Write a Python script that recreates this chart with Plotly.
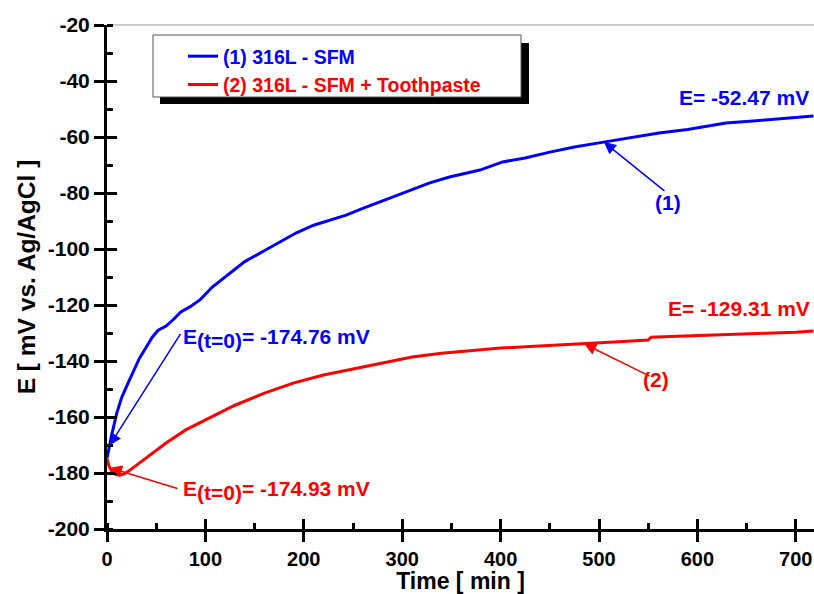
import numpy as np
import plotly.graph_objects as go

# ---------------- data ----------------
t_sfm = [0, 2, 5, 10, 15, 20, 27, 33, 40, 46, 52, 60, 68, 75, 85, 95, 107, 125, 140, 158,
         175, 192, 210, 230, 243, 260, 277, 297, 315, 328, 348, 379, 402, 425, 450, 475,
         500, 530, 561, 590, 629, 660, 690, 718]
e_sfm = [-174.76, -171, -166, -158.5, -153, -149, -143.5, -139, -135, -131.5, -129, -127.5,
         -125, -122.5, -120.5, -118, -113.6, -108.5, -104.5, -101, -97.5, -94.3, -91.5,
         -89.3, -87.9, -85.5, -83.2, -80.6, -78.3, -76.4, -74.3, -71.8, -68.9, -67.5,
         -65.4, -63.6, -62.1, -60.4, -58.6, -57.3, -55, -54.2, -53.4, -52.47]

t_tp = [0, 2, 5, 9, 13, 18, 24, 33, 45, 60, 80, 100, 130, 160, 190, 220, 250, 280, 310,
        340, 370, 400, 430, 460, 490, 520, 550, 553, 580, 610, 640, 670, 700, 718]
e_tp = [-174.93, -177.5, -179.5, -180.6, -180.8, -180.2, -178.8, -176.4, -173, -169.3,
        -164.6, -161, -155.8, -151.5, -147.8, -145, -142.8, -140.7, -138.6, -137.2,
        -136.2, -135.4, -134.8, -134.3, -133.8, -133.1, -132.5, -131.5, -131.2, -130.9,
        -130.5, -130.1, -129.7, -129.31]

x_ticks = [0, 100, 200, 300, 400, 500, 600, 700]
x_ticklabels = ["0", "100", "200", "300", "400", "500", "600", "700"]
y_ticks = [-200, -180, -160, -140, -120, -100, -80, -60, -40, -20]
y_ticklabels = ["-200", "-180", "-160", "-140", "-120", "-100", "-80", "-60", "-40", "-20"]

name_sfm = "(1) 316L - SFM"
name_tp = "(2) 316L - SFM + Toothpaste"

BLUE = "#0000FF"
RED = "#FF0000"
FONT = "Arial, Liberation Sans, sans-serif"

W, H = 814, 594
ML, MR, MT, MB = 107, 0, 25, 65
PW, PH = W - ML - MR, H - MT - MB


def px(xp):
    return (xp - ML) / PW


def py(yp):
    return 1 - (yp - MT) / PH


fig = go.Figure()
fig.add_trace(go.Scatter(x=t_sfm, y=e_sfm, mode="lines",
                         name=f"<span style='color:{BLUE}'>{name_sfm}</span>",
                         line=dict(color=BLUE, width=3)))
fig.add_trace(go.Scatter(x=t_tp, y=e_tp, mode="lines",
                         name=f"<span style='color:{RED}'>{name_tp}</span>",
                         line=dict(color=RED, width=3)))
# empty helper trace so the overlay axes (crossing ticks) get drawn
fig.add_trace(go.Scatter(x=[], y=[], xaxis="x2", yaxis="y2", showlegend=False,
                         hoverinfo="skip"))

axis_common = dict(showline=True, linecolor="black", linewidth=3,
                   ticks="outside", ticklen=10, tickwidth=3, tickcolor="black",
                   showgrid=False, zeroline=False)

xr = [0, 718.5]
yr = [-200, -20]

fig.update_layout(
    width=W, height=H,
    margin=dict(l=ML, r=MR, t=MT, b=MB),
    paper_bgcolor="white", plot_bgcolor="white",
    xaxis=dict(range=xr, tickvals=x_ticks, ticktext=x_ticklabels,
               tickfont=dict(family=FONT, size=20, color="black", weight=700),
               title=dict(text="Time [ min ]", standoff=7,
                          font=dict(family=FONT, size=23, color="black", weight=700)),
               minor=dict(dtick=50, ticks="inside", ticklen=6, tickwidth=2.5,
                          tickcolor="black"),
               **axis_common),
    yaxis=dict(range=yr, tickvals=y_ticks, ticktext=y_ticklabels,
               tickfont=dict(family=FONT, size=21, color="black", weight=700),
               title=dict(text="E [ mV vs. Ag/AgCl ]", standoff=6,
                          font=dict(family=FONT, size=24.5, color="black", weight=700)),
               minor=dict(dtick=10, ticks="inside", ticklen=6, tickwidth=2.5,
                          tickcolor="black"),
               **axis_common),
    xaxis2=dict(range=xr, overlaying="x", anchor="y", side="bottom",
                tickvals=x_ticks, ticks="inside", ticklen=10, tickwidth=3,
                tickcolor="black", showticklabels=False, showline=False,
                showgrid=False, zeroline=False),
    yaxis2=dict(range=yr, overlaying="y", anchor="x", side="left",
                tickvals=y_ticks, ticks="inside", ticklen=10, tickwidth=3,
                tickcolor="black", showticklabels=False, showline=False,
                showgrid=False, zeroline=False),
    showlegend=True,
    legend=dict(x=px(183), y=py(37), xanchor="left", yanchor="top",
                bgcolor="rgba(0,0,0,0)", borderwidth=0,
                font=dict(family=FONT, size=19.5, weight=700),
                itemwidth=30, tracegroupgap=0),
)

# legend frame with drop shadow and thin top border line
fig.add_shape(type="rect", xref="paper", yref="paper",
              x0=px(160), x1=px(529), y0=py(104), y1=py(43),
              fillcolor="black", line=dict(width=0), layer="above")
fig.add_shape(type="rect", xref="paper", yref="paper",
              x0=px(153), x1=px(521), y0=py(97), y1=py(35),
              fillcolor="white", line=dict(color="#555555", width=1), layer="above")
fig.add_shape(type="line", xref="paper", yref="paper", x0=0, x1=1, y0=1, y1=1,
              line=dict(color="#999999", width=1), layer="below")

ann_font = lambda c: dict(family=FONT, size=21, color=c, weight=700)
SUB = "<sub><span style='font-size:21px'>(t=0)</span></sub>"

# end-value labels
fig.add_annotation(x=px(811), y=py(97.5), xref="paper", yref="paper",
                   xanchor="right", yanchor="middle", showarrow=False,
                   text=f"E= {e_sfm[-1]:.2f} mV", font=ann_font(BLUE))
fig.add_annotation(x=px(812), y=py(308), xref="paper", yref="paper",
                   xanchor="right", yanchor="middle", showarrow=False,
                   text=f"E= {e_tp[-1]:.2f} mV", font=ann_font(RED))

# initial-value labels
fig.add_annotation(x=px(181), y=py(338), xref="paper", yref="paper",
                   xanchor="left", yanchor="middle", showarrow=False,
                   text=f"E{SUB}= {e_sfm[0]:.2f} mV", font=ann_font(BLUE))
fig.add_annotation(x=px(181), y=py(490), xref="paper", yref="paper",
                   xanchor="left", yanchor="middle", showarrow=False,
                   text=f"E{SUB}= {e_tp[0]:.2f} mV", font=ann_font(RED))

# curve number labels
fig.add_annotation(x=px(683), y=py(202), xref="paper", yref="paper",
                   showarrow=False, text="(1)", font=ann_font(BLUE))
fig.add_annotation(x=px(671), y=py(393), xref="paper", yref="paper",
                   showarrow=False, text="(2)", font=ann_font(RED))


def arrow(tx, series_t, series_e, ax, ay, color):
    ty = float(np.interp(tx, series_t, series_e))
    fig.add_annotation(x=tx, y=ty, xref="x", yref="y", text="", showarrow=True,
                       ax=ax, ay=ay, axref="pixel", ayref="pixel",
                       arrowhead=2, arrowsize=1.6, arrowwidth=1.5,
                       arrowcolor=color, standoff=0)


arrow(505, t_sfm, e_sfm, 62, 50, BLUE)
arrow(485, t_tp, e_tp, 67, 33, RED)
arrow(2.5, t_sfm, e_sfm, 72, -113, BLUE)
arrow(3, t_tp, e_tp, 69, 21, RED)

fig.write_html("out.html")
